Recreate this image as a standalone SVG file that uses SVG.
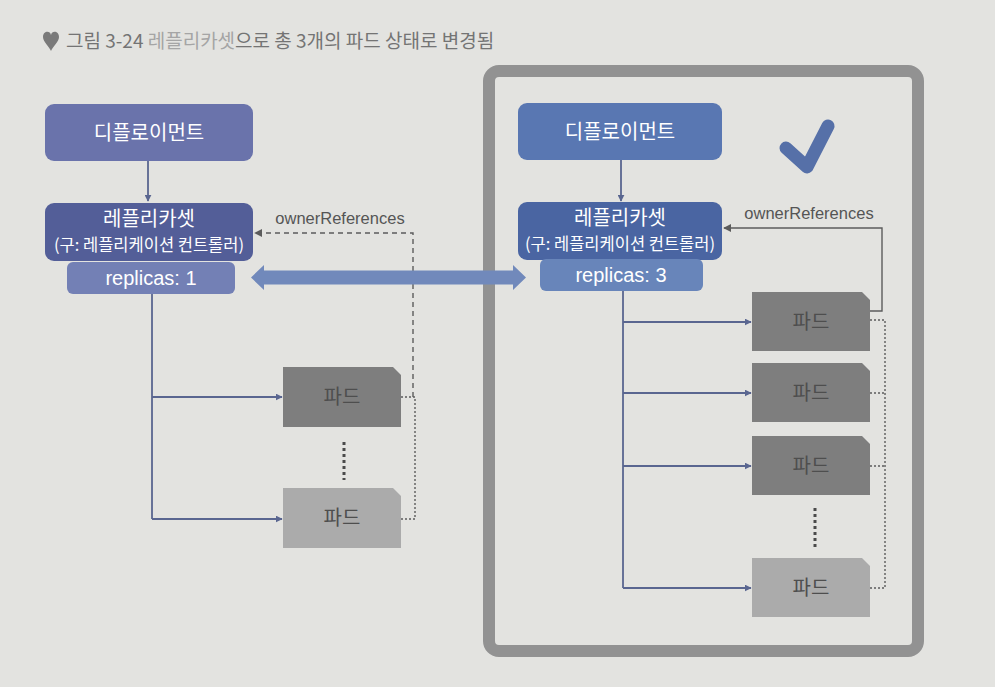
<svg xmlns="http://www.w3.org/2000/svg" width="995" height="687" viewBox="0 0 995 687">
<defs>
<style>
.kr{font-family:"Noto Sans CJK KR","Noto Sans",sans-serif;}
.en{font-family:"Liberation Sans",Arial,sans-serif;}
.wt{fill:#ffffff;text-anchor:middle;}
.podtxt{fill:#4e4e4e;font-size:20px;text-anchor:middle;}
.conn{fill:none;stroke:#5a6690;stroke-width:1.8;}
.own{fill:none;stroke:#5c5c5c;stroke-width:1.4;}
.dash{stroke-dasharray:5 4;}
.dot{stroke-dasharray:2 2;}
.bigdot{fill:none;stroke:#4a4a4a;stroke-width:3;stroke-dasharray:3 3;}
.podD{fill:#7e7e7e;}
.podL{fill:#ababab;}
</style>
<marker id="ah" viewBox="0 0 10 10" refX="9" refY="5" markerWidth="7" markerHeight="7" markerUnits="userSpaceOnUse" orient="auto">
<path d="M0,0 L10,5 L0,10 z" fill="#5a6690"/>
</marker>
<marker id="ahg" viewBox="0 0 10 10" refX="9" refY="5" markerWidth="8" markerHeight="8" markerUnits="userSpaceOnUse" orient="auto">
<path d="M0,0 L10,5 L0,10 z" fill="#5c5c5c"/>
</marker>
</defs>
<rect x="0" y="0" width="995" height="687" fill="#e3e3e0"/>

<g id="title">
<path d="M43,37 C43,31 50,30 51,35 C52,30 59,31 59,37 C59,42 53,46 51,51 C49,46 43,42 43,37 z" fill="#7a7a7a"/>
<text x="66" y="48" class="kr" font-size="19" font-weight="400" fill="#747474">그림 3-24 <tspan fill="#a5a5a5">레플리카셋</tspan>으로 총 3개의 파드 상태로 변경됨</text>
</g>

<g id="frame">
<rect x="489" y="71" width="429" height="580" rx="10" ry="10" fill="none" stroke="#929292" stroke-width="12"/>
</g>

<g id="connectors">
<line x1="148" y1="161" x2="148" y2="201" class="conn" marker-end="url(#ah)"/>
<polyline points="152,294 152,519" class="conn"/>
<line x1="152" y1="397" x2="282" y2="397" class="conn" marker-end="url(#ah)"/>
<line x1="152" y1="519" x2="282" y2="519" class="conn" marker-end="url(#ah)"/>
<polyline points="413,397 413,233 255,233" class="own dash" marker-end="url(#ahg)"/>
<polyline points="401,397 415,397 415,519 401,519" class="own dot"/>
<line x1="344" y1="442" x2="344" y2="480" class="bigdot"/>
<line x1="621" y1="160" x2="621" y2="201" class="conn" marker-end="url(#ah)"/>
<polyline points="623,291 623,588" class="conn"/>
<line x1="623" y1="322" x2="751" y2="322" class="conn" marker-end="url(#ah)"/>
<line x1="623" y1="393" x2="751" y2="393" class="conn" marker-end="url(#ah)"/>
<line x1="623" y1="466" x2="751" y2="466" class="conn" marker-end="url(#ah)"/>
<line x1="623" y1="588" x2="751" y2="588" class="conn" marker-end="url(#ah)"/>
<polyline points="870,311 882,311 882,228 724,228" class="own" marker-end="url(#ahg)"/>
<polyline points="870,320 885,320 885,588 870,588" class="own dot"/>
<line x1="870" y1="393" x2="885" y2="393" class="own dot"/>
<line x1="870" y1="466" x2="885" y2="466" class="own dot"/>
<line x1="815" y1="508" x2="815" y2="548" class="bigdot"/>
<polygon points="251,277.5 264,265 264,270.5 513,270.5 513,265 526,277.5 513,290 513,284.5 264,284.5 264,290" fill="#7189bb"/>
</g>

<text x="340" y="224" class="en" font-size="16.5" fill="#555555" text-anchor="middle">ownerReferences</text>
<text x="809" y="219" class="en" font-size="16.5" fill="#555555" text-anchor="middle">ownerReferences</text>

<g id="left-deployment">
<rect x="45" y="104" width="208" height="57" rx="9" fill="#6a73ab"/>
<text x="149" y="140" class="kr wt" font-size="20">디플로이먼트</text>
</g>
<g id="left-replicaset">
<rect x="45" y="203" width="208" height="58" rx="9" fill="#535e98"/>
<text x="149" y="225.5" class="kr wt" font-size="20">레플리카셋</text>
<text x="149" y="251" class="kr wt" font-size="16.5">(구: 레플리케이션 컨트롤러)</text>
</g>
<g id="left-replicas">
<rect x="67" y="262" width="168" height="32" rx="6" fill="#7380b5"/>
<text x="151" y="285" class="en wt" font-size="20">replicas: 1</text>
</g>
<g id="left-pod1">
<path d="M283,367 H393 L401,375 V427 H283 z" class="podD"/>
<text x="342" y="404" class="kr podtxt">파드</text>
</g>
<g id="left-pod2">
<path d="M283,488 H393 L401,496 V548 H283 z" class="podL"/>
<text x="342" y="525" class="kr podtxt">파드</text>
</g>

<g id="right-deployment">
<rect x="518" y="103" width="204" height="57" rx="9" fill="#5977b2"/>
<text x="620" y="139" class="kr wt" font-size="20">디플로이먼트</text>
</g>
<g id="right-replicaset">
<rect x="518" y="202" width="204" height="58" rx="9" fill="#4a65a2"/>
<text x="620" y="224.5" class="kr wt" font-size="20">레플리카셋</text>
<text x="620" y="250" class="kr wt" font-size="16.5">(구: 레플리케이션 컨트롤러)</text>
</g>
<g id="right-replicas">
<rect x="540" y="259" width="163" height="32" rx="6" fill="#6885ba"/>
<text x="621" y="282" class="en wt" font-size="20">replicas: 3</text>
</g>
<g id="check">
<polyline points="786,148 807,167 828,126" fill="none" stroke="#5670a8" stroke-width="13" stroke-linecap="round" stroke-linejoin="round"/>
</g>
<g id="right-pod1">
<path d="M752,292 H862 L870,300 V351 H752 z" class="podD"/>
<text x="811" y="329" class="kr podtxt">파드</text>
</g>
<g id="right-pod2">
<path d="M752,363 H862 L870,371 V422 H752 z" class="podD"/>
<text x="811" y="400" class="kr podtxt">파드</text>
</g>
<g id="right-pod3">
<path d="M752,436 H862 L870,444 V495 H752 z" class="podD"/>
<text x="811" y="473" class="kr podtxt">파드</text>
</g>
<g id="right-pod4">
<path d="M752,558 H862 L870,566 V617 H752 z" class="podL"/>
<text x="811" y="595" class="kr podtxt">파드</text>
</g>
</svg>
